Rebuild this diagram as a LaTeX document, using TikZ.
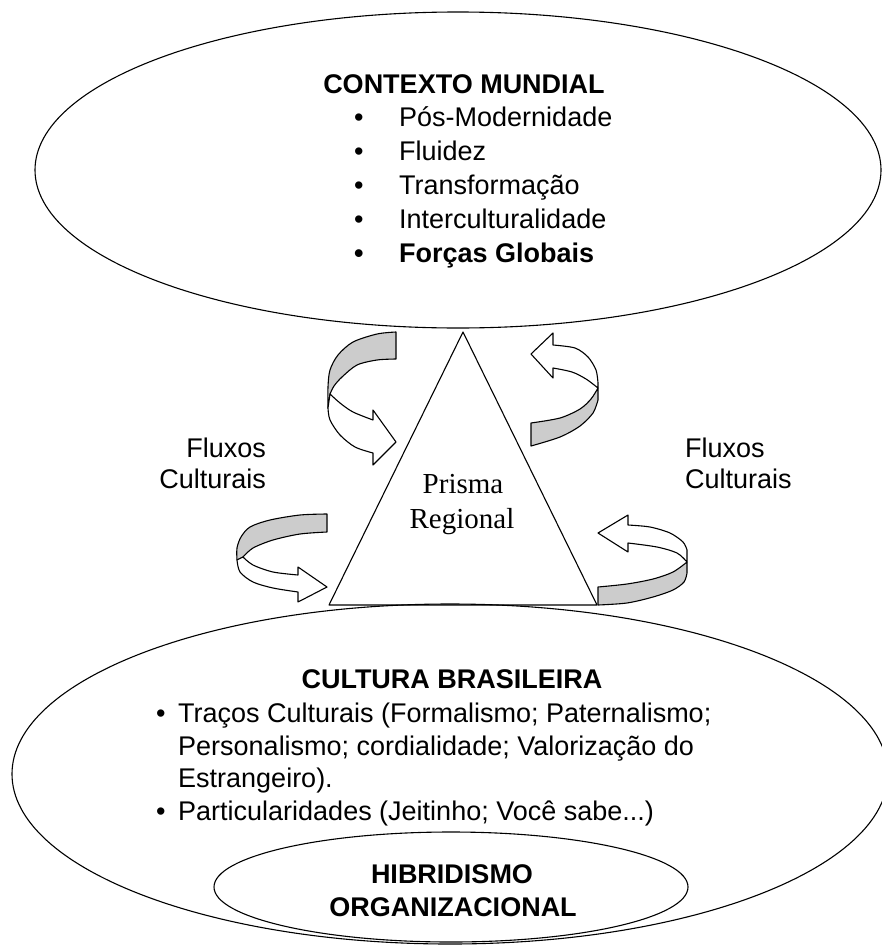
\documentclass[tikz,border=0pt]{standalone}
\usepackage{fontspec}
\setmainfont{Liberation Serif}
\setsansfont{Liberation Sans}
\usetikzlibrary{shapes.geometric}

\tikzset{
  bubble/.style={draw, ellipse, inner sep=0pt, line width=1.1pt},
  ribbonback/.style={draw, fill=black!20, line width=1.1pt, line join=round},
  ribbonfront/.style={draw, fill=white, line width=1.1pt, line join=round},
  txt/.style={font=\sffamily\fontsize{27}{33}\selectfont, inner sep=0pt, anchor=base west},
  bold/.style={txt, font=\sffamily\bfseries\fontsize{27}{33}\selectfont},
}

\begin{document}
\begin{tikzpicture}[x=1pt, y=-1pt]
  \useasboundingbox (0,0) rectangle (881,945);

  % ellipses
  \node[bubble, minimum width=846pt, minimum height=316pt] (mundial) at (458,170) {};
  \node[bubble, minimum width=876pt, minimum height=340pt] (brasil) at (450,774) {};
  \node[bubble, minimum width=474pt, minimum height=110pt] (hibrido) at (451,887) {};

  % prism
  \coordinate (apex) at (463,332);
  \coordinate (bl) at (329,605);
  \coordinate (br) at (597,605);
  \draw[line width=1.1pt, line join=round] (apex) -- (bl) -- (br) -- cycle;

  % top text
  \node[bold, anchor=base] (titmundial) at (464,93) {CONTEXTO MUNDIAL};
  \node[txt] (b1) at (354,126) {\textbullet};
  \node[txt] (pos) at (399,126) {Pós-Modernidade};
  \node[txt] (b2) at (354,160) {\textbullet};
  \node[txt] (fluidez) at (399,160) {Fluidez};
  \node[txt] (b3) at (354,194) {\textbullet};
  \node[txt] (transf) at (399,194) {Transformação};
  \node[txt] (b4) at (354,228) {\textbullet};
  \node[txt] (inter) at (399,228) {Interculturalidade};
  \node[bold] (b5) at (354,262) {\textbullet};
  \node[bold] (forcas) at (399,262) {Forças Globais};

  % side labels
  \node[txt, anchor=base east] (fluxosl) at (266,457) {Fluxos};
  \node[txt, anchor=base east] (cultl) at (266,488) {Culturais};
  \node[txt] (fluxosr) at (685,457) {Fluxos};
  \node[txt] (cultr) at (685,488) {Culturais};
  \node[font=\fontsize{29}{35}\selectfont, inner sep=0pt, anchor=base] (prisma) at (463,493) {Prisma};
  \node[font=\fontsize{29}{35}\selectfont, inner sep=0pt, anchor=base] (regional) at (462,528) {Regional};

  % bottom text
  \node[bold, anchor=base] (titbrasil) at (452,688) {CULTURA BRASILEIRA};
  \node[txt] (c1) at (156,722) {\textbullet};
  \node[txt] (tracos) at (178,722) {Traços Culturais (Formalismo; Paternalismo;};
  \node[txt] (pers) at (178,755) {Personalismo; cordialidade; Valorização do};
  \node[txt] (estr) at (178,787) {Estrangeiro).};
  \node[txt] (c2) at (156,820) {\textbullet};
  \node[txt] (partic) at (178,820) {Particularidades (Jeitinho; Você sabe...)};
  \node[bold, anchor=base] (hib1) at (452,883) {HIBRIDISMO};
  \node[bold, anchor=base] (hib2) at (453,916) {ORGANIZACIONAL};

  % ribbon arrows, top left
  \filldraw[ribbonback] plot[smooth] coordinates {(396,332) (377,334) (353,342) (338,355) (330,370) (328,387) (328,408)}
    -- plot[smooth] coordinates {(330,394) (334,386) (342,377) (357,365) (377,360) (396,359)} -- cycle;
  \filldraw[ribbonfront] plot[smooth] coordinates {(328,408) (330,420) (340,435) (355,447) (373,453)}
    -- (373,465) -- (396,442) -- (373,410)
    -- plot[smooth] coordinates {(373,420) (353,412) (340,403) (330,394)} -- cycle;

  % top right
  \filldraw[ribbonback] plot[smooth] coordinates {(531,446) (560,437) (580,426) (593,413) (598,400)}
    -- plot[smooth] coordinates {(598,388) (591,399) (580,409) (560,418) (531,423)} -- cycle;
  \filldraw[ribbonfront] plot[smooth] coordinates {(598,383) (596,370) (588,357) (575,348) (553,345)}
    -- (553,333) -- (531,354) -- (553,378)
    -- plot[smooth] coordinates {(553,368) (572,372) (586,379) (598,388)} -- cycle;

  % bottom left
  \filldraw[ribbonback] plot[smooth] coordinates {(327,514) (300,515) (270,520) (250,527) (241,537) (237,548) (237,560)}
    -- plot[smooth] coordinates {(243,557) (253,548) (273,540) (300,534) (327,532)} -- cycle;
  \filldraw[ribbonfront] plot[smooth] coordinates {(237,560) (240,572) (253,582) (273,588) (298,592)}
    -- (298,602) -- (327,587) -- (298,567)
    -- plot[smooth] coordinates {(298,575) (273,572) (253,565) (243,557)} -- cycle;

  % bottom right
  \filldraw[ribbonback] plot[smooth] coordinates {(598,605) (627,603) (653,597) (673,590) (684,582) (687,573)}
    -- plot[smooth] coordinates {(687,562) (673,572) (653,579) (627,584) (598,587)} -- cycle;
  \filldraw[ribbonfront] plot[smooth] coordinates {(687,550) (683,542) (670,533) (650,527) (628,525)}
    -- (628,515) -- (598,533) -- (628,552)
    -- plot[smooth] coordinates {(628,543) (657,547) (677,553) (687,562)} -- cycle;
\end{tikzpicture}
\end{document}
